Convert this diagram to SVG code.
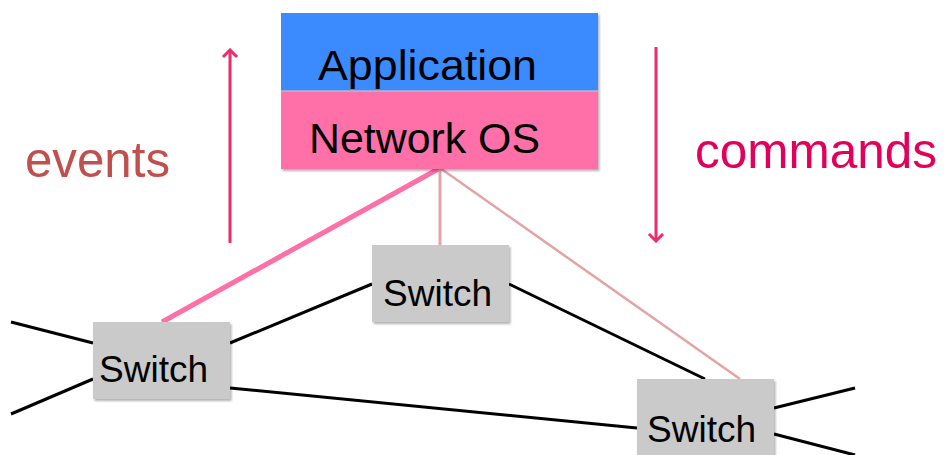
<svg xmlns="http://www.w3.org/2000/svg" width="944" height="455" viewBox="0 0 944 455">
<style>
.lbl{font-family:"Liberation Sans",Arial,sans-serif;fill:#000}
.link{stroke:#000;stroke-width:3;fill:none}
.sw{fill:#cacaca}
</style>
<defs>
<filter id="sh" x="-10%" y="-10%" width="130%" height="130%">
<feDropShadow dx="1.5" dy="2" stdDeviation="1.2" flood-color="#000" flood-opacity="0.3"/>
</filter>
<marker id="ah" viewBox="-10 -9 12 18" refX="0" refY="0" markerWidth="12" markerHeight="18" markerUnits="userSpaceOnUse" orient="auto">
<path d="M-7,-7 L0,0 L-7,7" fill="none" stroke="#ee2a6e" stroke-width="3" stroke-linejoin="miter"/>
</marker>
</defs>
<g id="connectors">
<line class="link" x1="11" y1="322" x2="93" y2="343"/>
<line class="link" x1="11" y1="414" x2="93" y2="379"/>
<line class="link" x1="230" y1="343" x2="372" y2="284"/>
<line class="link" x1="230" y1="388" x2="637" y2="428"/>
<line class="link" x1="509" y1="284" x2="705" y2="379"/>
<line class="link" x1="774" y1="408" x2="855" y2="388"/>
<line class="link" x1="774" y1="434" x2="855" y2="455"/>
<line x1="440" y1="168" x2="162" y2="322" stroke="#ff6fa8" stroke-width="5"/>
<line x1="440" y1="168" x2="440" y2="245" stroke="#e2a4a4" stroke-width="3"/>
<line x1="440" y1="168" x2="740" y2="379" stroke="#e2a4a4" stroke-width="2.5"/>
</g>
<g id="events-arrow">
<line x1="230" y1="243" x2="230" y2="50" stroke="#ee2a6e" stroke-width="3" marker-end="url(#ah)"/>
<text x="25" y="177" font-family="Liberation Sans,Arial,sans-serif" font-size="50" fill="#c0504d" textLength="145" lengthAdjust="spacingAndGlyphs">events</text>
</g>
<g id="commands-arrow">
<line x1="656" y1="47" x2="656" y2="241" stroke="#ee2a6e" stroke-width="3" marker-end="url(#ah)"/>
<text x="695" y="168" font-family="Liberation Sans,Arial,sans-serif" font-size="50" fill="#e3005a" textLength="242" lengthAdjust="spacingAndGlyphs">commands</text>
</g>
<g id="application">
<rect x="281" y="13" width="317" height="78" fill="#3a8bff" filter="url(#sh)"/>
<text class="lbl" x="318" y="80" font-size="42" textLength="219" lengthAdjust="spacingAndGlyphs">Application</text>
</g>
<g id="network-os">
<rect x="281" y="91" width="317" height="78" fill="#ff6fa8" filter="url(#sh)"/>
<line x1="281" y1="91" x2="598" y2="91" stroke="#b8b8c8" stroke-width="1.5"/>
<text class="lbl" x="309" y="153" font-size="42" textLength="231" lengthAdjust="spacingAndGlyphs">Network OS</text>
</g>
<g id="switch-left">
<rect class="sw" x="93" y="322" width="137" height="77" filter="url(#sh)"/>
<text class="lbl" x="99" y="382" font-size="36" textLength="109" lengthAdjust="spacingAndGlyphs">Switch</text>
</g>
<g id="switch-middle">
<rect class="sw" x="372" y="245" width="137" height="77" filter="url(#sh)"/>
<text class="lbl" x="383" y="306" font-size="36" textLength="109" lengthAdjust="spacingAndGlyphs">Switch</text>
</g>
<g id="switch-right">
<rect class="sw" x="637" y="379" width="137" height="80" filter="url(#sh)"/>
<text class="lbl" x="647" y="442" font-size="36" textLength="109" lengthAdjust="spacingAndGlyphs">Switch</text>
</g>
</svg>
